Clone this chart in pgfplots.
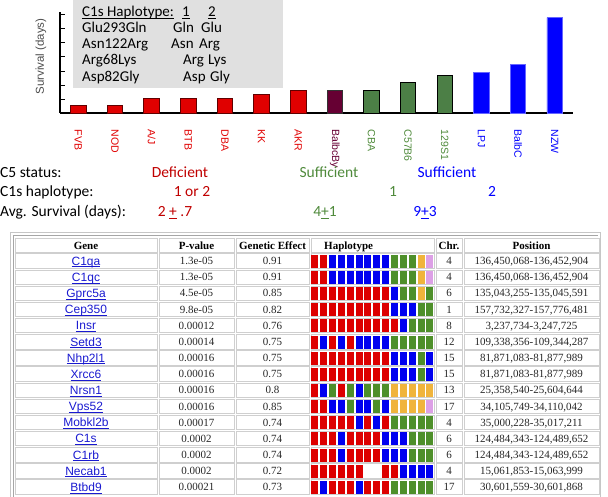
\documentclass[border=0pt]{standalone}
\usepackage{pgfplots}
\pgfplotsset{compat=1.18}
\usepackage{fontspec}
\setmainfont{Carlito}
\newfontfamily\arial{Liberation Sans}
\newfontfamily\tnr{Liberation Serif}
\definecolor{barR}{HTML}{E00000}
\definecolor{barRd}{HTML}{600000}
\definecolor{barP}{HTML}{660033}
\definecolor{barG}{HTML}{4C7F46}
\definecolor{barB}{HTML}{0000FF}
\definecolor{txtR}{HTML}{C00000}
\definecolor{txtG}{HTML}{4F8A3B}
\definecolor{txtB}{HTML}{0000FF}
\definecolor{lblR}{HTML}{E00000}
\definecolor{lblG}{HTML}{4F8A3B}
\definecolor{hR}{HTML}{DD0000}
\definecolor{hB}{HTML}{0000F0}
\definecolor{hG}{HTML}{4E8F2A}
\definecolor{hO}{HTML}{F0B43C}
\definecolor{hP}{HTML}{DDA0E6}
\definecolor{link}{HTML}{1A1AD0}
\definecolor{boxgray}{HTML}{E0E0E0}
\definecolor{cellb}{HTML}{CFCFCF}
\pgfdeclareplotmark{hbox}{\pgfpathrectangle{\pgfpoint{-3pt}{-6pt}}{\pgfpoint{6pt}{12pt}}\pgfusepathqfillstroke}
\newcommand{\trow}[6]{%
  \pgfmathsetmacro{\yc}{236-16.15*#1}%
  \foreach \a/\b in {15/157,159/234,236/309,311/434,436/462,464/599}{%
    \draw[cellb,line width=0.8pt] ({\a pt},{\yc pt-7.2pt}) rectangle ({\b pt},{\yc pt+7.2pt});}%
  \node[anchor=base,text=link,inner sep=0pt] at (86pt,{\yc pt-4.3pt}) {\arial\fontsize{12}{14}\selectfont\underline{\smash{#2}}};%
  \node[anchor=base,inner sep=0pt,text=black!85] at (196.5pt,{\yc pt-3.7pt}) {\tnr\fontsize{11}{13}\selectfont #3};%
  \node[anchor=base,inner sep=0pt,text=black!85] at (272.5pt,{\yc pt-3.7pt}) {\tnr\fontsize{11}{13}\selectfont #4};%
  \node[anchor=base,inner sep=0pt,text=black!85] at (449pt,{\yc pt-3.7pt}) {\tnr\fontsize{11}{13}\selectfont #5};%
  \node[anchor=base,inner sep=0pt,text=black!85] at (531.5pt,{\yc pt-3.7pt}) {\tnr\fontsize{11}{13}\selectfont #6};%
}
\begin{document}
\begin{tikzpicture}
\path[use as bounding box] (0pt,0pt) rectangle (608pt,497pt);
% inset box
\fill[boxgray] (73pt,409pt) rectangle (283pt,497pt);
\begin{scope}[every node/.style={anchor=base west,inner sep=0pt,font=\fontsize{15}{17}\selectfont}]
\node at (82pt,480pt) {\underline{\smash{C1s Haplotype:}}};
\node at (182pt,480pt) {\underline{\smash{1}}};
\node at (208pt,480pt) {\underline{\smash{2}}};
\node at (82pt,464.3pt) {Glu293Gln};
\node at (173pt,464.3pt) {Gln};
\node at (201pt,464.3pt) {Glu};
\node at (82pt,448.5pt) {Asn122Arg};
\node at (171pt,448.5pt) {Asn};
\node at (199pt,448.5pt) {Arg};
\node at (82pt,432pt) {Arg68Lys};
\node at (183pt,432pt) {Arg};
\node at (208pt,432pt) {Lys};
\node at (82pt,415.5pt) {Asp82Gly};
\node at (183pt,415.5pt) {Asp};
\node at (210pt,415.5pt) {Gly};
\end{scope}
% bar chart
\begin{axis}[
  at={(60pt,384pt)}, anchor=south west,
  scale only axis, width=513pt, height=101pt,
  xmin=-0.5, xmax=13.5, ymin=0, ymax=14.4,
  axis x line*=bottom, axis y line*=left,
  axis line style={black, line width=1.4pt},
  xtick={0,...,13},
  xticklabels={\textcolor{lblR}{FVB},\textcolor{lblR}{NOD},\textcolor{lblR}{A/J},\textcolor{lblR}{BTB},\textcolor{lblR}{DBA},\textcolor{lblR}{KK},\textcolor{lblR}{AKR},\textcolor{barP}{BalbcBy},\textcolor{lblG}{CBA},\textcolor{lblG}{C57B6},\textcolor{lblG}{129S1},\textcolor{txtB}{LPJ},\textcolor{txtB}{BalbC},\textcolor{txtB}{NZW}},
  xticklabel style={rotate=-90, anchor=west, inner sep=0pt, font=\arial\fontsize{10.5}{12}\selectfont},
  xticklabel shift=12pt,
  ytick={2,4,...,14}, yticklabels={},
  xtick style={draw=none},
  ytick style={draw=black, line width=0.8pt},
  major tick length=4.5pt,
  tick align=inside,
  ybar, bar width=15.5pt,
  clip=false,
]
\addplot[bar shift=0pt, fill=barR, draw=barRd, line width=0.8pt] coordinates {(0,1.1) (1,1.1) (2,2.1) (3,2.1) (4,2.1) (5,2.6) (6,3.2)};
\addplot[bar shift=0pt, fill=barP, draw=black!80, line width=0.8pt] coordinates {(7,3.2)};
\addplot[bar shift=0pt, fill=barG, draw=black, line width=0.8pt] coordinates {(8,3.2) (9,4.3) (10,5.3)};
\addplot[bar shift=0pt, fill=barB, draw=blue!60, line width=0.8pt] coordinates {(11,5.8) (12,6.9) (13,13.6)};
\node[rotate=90, inner sep=0pt, font=\arial\fontsize{11.5}{13}\selectfont, text=black!70] at (rel axis cs:-0.037,0.56) {Survival (days)};
\end{axis}
% summary text
\begin{scope}[every node/.style={inner sep=0pt,font=\fontsize{15.5}{17}\selectfont}]
\node[anchor=base west] at (0pt,319pt) {C5 status:};
\node[anchor=base west] at (0pt,300pt) {C1s haplotype:};
\node[anchor=base west] at (0pt,280pt) {Avg. Survival (days):};
\node[anchor=base,text=txtR] at (180pt,319pt) {Deficient};
\node[anchor=base,text=txtG] at (329pt,319pt) {Sufficient};
\node[anchor=base,text=txtB] at (447pt,319pt) {Sufficient};
\node[anchor=base,text=txtR] at (192pt,300pt) {1 or 2};
\node[anchor=base,text=txtG] at (393pt,300pt) {1};
\node[anchor=base,text=txtB] at (492pt,300pt) {2};
\node[anchor=base,text=txtR] at (175pt,280pt) {2 \underline{+} .7};
\node[anchor=base,text=txtG] at (325pt,280pt) {4\underline{+}1};
\node[anchor=base,text=txtB] at (425pt,280pt) {9\underline{+}3};
\end{scope}
% table frame
\draw[gray!45,line width=1.2pt] (10.5pt,-5pt) -- (10.5pt,264.5pt) -- (600.5pt,264.5pt) -- (600.5pt,-5pt);
\draw[gray!70,line width=0.6pt] (13pt,-5pt) -- (13pt,262pt) -- (598pt,262pt);
% header
\foreach \a/\b in {15/157,159/234,236/309,311/434,436/462,464/599}{
  \draw[cellb,line width=0.8pt] (\a pt,244.3pt) rectangle (\b pt,258.7pt);}
\begin{scope}[every node/.style={inner sep=0pt,anchor=base,font=\tnr\bfseries\fontsize{11}{13}\selectfont}]
\node at (86pt,247.8pt) {Gene};
\node at (196.5pt,247.8pt) {P-value};
\node at (272.5pt,247.8pt) {Genetic Effect};
\node[anchor=base west] at (324pt,247.8pt) {Haplotype};
\node at (449pt,247.8pt) {Chr.};
\node at (531.5pt,247.8pt) {Position};
\end{scope}
\trow{0}{C1qa}{1.3e-05}{0.91}{4}{136,450,068-136,452,904}
\trow{1}{C1qc}{1.3e-05}{0.91}{4}{136,450,068-136,452,904}
\trow{2}{Gprc5a}{4.5e-05}{0.85}{6}{135,043,255-135,045,591}
\trow{3}{Cep350}{9.8e-05}{0.82}{1}{157,732,327-157,776,481}
\trow{4}{Insr}{0.00012}{0.76}{8}{3,237,734-3,247,725}
\trow{5}{Setd3}{0.00014}{0.75}{12}{109,338,356-109,344,287}
\trow{6}{Nhp2l1}{0.00016}{0.75}{15}{81,871,083-81,877,989}
\trow{7}{Xrcc6}{0.00016}{0.75}{15}{81,871,083-81,877,989}
\trow{8}{Nrsn1}{0.00016}{0.8}{13}{25,358,540-25,604,644}
\trow{9}{Vps52}{0.00016}{0.85}{17}{34,105,749-34,110,042}
\trow{10}{Mobkl2b}{0.00017}{0.74}{4}{35,000,228-35,017,211}
\trow{11}{C1s}{0.0002}{0.74}{6}{124,484,343-124,489,652}
\trow{12}{C1rb}{0.0002}{0.74}{6}{124,484,343-124,489,652}
\trow{13}{Necab1}{0.0002}{0.72}{4}{15,061,853-15,063,999}
\trow{14}{Btbd9}{0.00021}{0.73}{17}{30,601,559-30,601,868}
% haplotype blocks
\begin{axis}[
  at={(310.1pt,1.8pt)}, anchor=south west,
  scale only axis, width=123.9pt, height=242.25pt,
  xmin=-0.5, xmax=13.5, ymin=-0.5, ymax=14.5, y dir=reverse,
  hide axis, clip=false,
]
\addplot[scatter, only marks, scatter src=explicit symbolic, mark=hbox,
  scatter/classes={R={mark=hbox,fill=hR,draw=hR}, B={mark=hbox,fill=hB,draw=hB}, G={mark=hbox,fill=hG,draw=hG}, O={mark=hbox,fill=hO,draw=hO}, P={mark=hbox,fill=hP,draw=hP}, W={mark=hbox,fill=white,draw=white}}]
coordinates {
(0,0)[R] (1,0)[R] (2,0)[B] (3,0)[B] (4,0)[B] (5,0)[B] (6,0)[B] (7,0)[B] (8,0)[B] (9,0)[G] (10,0)[G] (11,0)[G] (12,0)[O] (13,0)[P]
(0,1)[R] (1,1)[R] (2,1)[B] (3,1)[B] (4,1)[B] (5,1)[B] (6,1)[B] (7,1)[B] (8,1)[B] (9,1)[G] (10,1)[G] (11,1)[G] (12,1)[O] (13,1)[P]
(0,2)[R] (1,2)[R] (2,2)[R] (3,2)[R] (4,2)[R] (5,2)[R] (6,2)[R] (7,2)[R] (8,2)[R] (9,2)[B] (10,2)[G] (11,2)[G] (12,2)[O] (13,2)[G]
(0,3)[R] (1,3)[R] (2,3)[R] (3,3)[R] (4,3)[R] (5,3)[R] (6,3)[R] (7,3)[R] (8,3)[R] (9,3)[B] (10,3)[B] (11,3)[B] (12,3)[G] (13,3)[G]
(0,4)[R] (1,4)[R] (2,4)[R] (3,4)[R] (4,4)[R] (5,4)[R] (6,4)[R] (7,4)[R] (8,4)[R] (9,4)[R] (10,4)[B] (11,4)[G] (12,4)[G] (13,4)[G]
(0,5)[R] (1,5)[B] (2,5)[R] (3,5)[B] (4,5)[R] (5,5)[B] (6,5)[B] (7,5)[B] (8,5)[B] (9,5)[G] (10,5)[G] (11,5)[G] (12,5)[G] (13,5)[G]
(0,6)[R] (1,6)[R] (2,6)[R] (3,6)[R] (4,6)[R] (5,6)[R] (6,6)[R] (7,6)[R] (8,6)[R] (9,6)[B] (10,6)[B] (11,6)[B] (12,6)[G] (13,6)[B]
(0,7)[R] (1,7)[R] (2,7)[R] (3,7)[R] (4,7)[R] (5,7)[R] (6,7)[R] (7,7)[R] (8,7)[R] (9,7)[B] (10,7)[B] (11,7)[B] (12,7)[G] (13,7)[B]
(0,8)[R] (1,8)[B] (2,8)[G] (3,8)[R] (4,8)[G] (5,8)[B] (6,8)[G] (7,8)[G] (8,8)[G] (9,8)[O] (10,8)[O] (11,8)[O] (12,8)[O] (13,8)[O]
(0,9)[R] (1,9)[R] (2,9)[B] (3,9)[B] (4,9)[G] (5,9)[B] (6,9)[B] (7,9)[G] (8,9)[B] (9,9)[O] (10,9)[O] (11,9)[O] (12,9)[O] (13,9)[P]
(0,10)[R] (1,10)[R] (2,10)[R] (3,10)[R] (4,10)[R] (5,10)[B] (6,10)[R] (7,10)[B] (8,10)[R] (9,10)[G] (10,10)[G] (11,10)[G] (12,10)[G] (13,10)[G]
(0,11)[R] (1,11)[R] (2,11)[R] (3,11)[B] (4,11)[R] (5,11)[R] (6,11)[R] (7,11)[R] (8,11)[B] (9,11)[B] (10,11)[B] (11,11)[G] (12,11)[G] (13,11)[G]
(0,12)[R] (1,12)[R] (2,12)[R] (3,12)[B] (4,12)[R] (5,12)[R] (6,12)[R] (7,12)[R] (8,12)[B] (9,12)[B] (10,12)[B] (11,12)[G] (12,12)[G] (13,12)[G]
(0,13)[R] (1,13)[R] (2,13)[R] (3,13)[R] (4,13)[R] (5,13)[R] (6,13)[W] (7,13)[W] (8,13)[R] (9,13)[R] (10,13)[B] (11,13)[B] (12,13)[B] (13,13)[B]
(0,14)[R] (1,14)[B] (2,14)[R] (3,14)[R] (4,14)[R] (5,14)[B] (6,14)[R] (7,14)[R] (8,14)[R] (9,14)[G] (10,14)[G] (11,14)[G] (12,14)[G] (13,14)[G]
};
\end{axis}
\end{tikzpicture}
\end{document}
